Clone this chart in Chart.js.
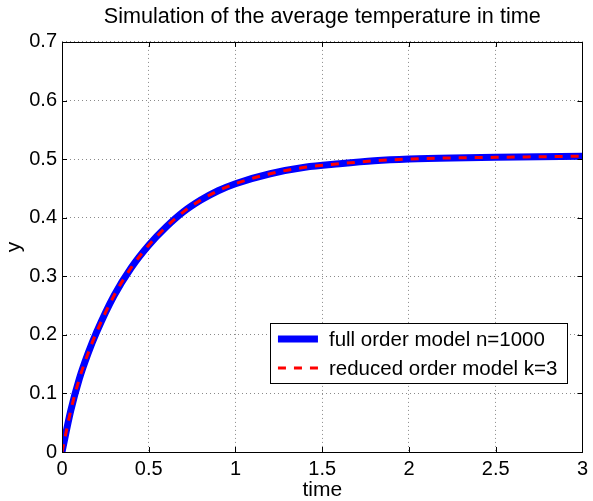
<!DOCTYPE html>
<html>
<head>
<meta charset="utf-8">
<script src="https://cdn.jsdelivr.net/npm/chart.js@4/dist/chart.umd.min.js"></script>
<style>
  body { margin: 0; background: #fff; }
  #wrap { width: 593px; height: 501px; }
</style>
</head>
<body>
<div id="wrap"><canvas id="chart" width="593" height="501"></canvas></div>
<script>
// values
const time = [0, 0.05, 0.1, 0.15, 0.2, 0.3, 0.4, 0.5, 0.6, 0.7, 0.8, 0.9, 1.0, 1.2, 1.4, 1.6, 1.8, 2.0, 2.25, 2.5, 2.75, 3.0];
const fullModel = [0, 0.07, 0.125, 0.168, 0.205, 0.267, 0.315, 0.353, 0.384, 0.41, 0.43, 0.446, 0.458, 0.475, 0.486, 0.492, 0.497, 0.5, 0.502, 0.503, 0.504, 0.505];
const reducedModel = [0, 0.07, 0.125, 0.168, 0.205, 0.267, 0.315, 0.353, 0.384, 0.41, 0.43, 0.446, 0.458, 0.475, 0.486, 0.492, 0.497, 0.5, 0.502, 0.503, 0.504, 0.505];
const xTicks = [0, 0.5, 1, 1.5, 2, 2.5, 3];
const yTicks = [0, 0.1, 0.2, 0.3, 0.4, 0.5, 0.6, 0.7];
const xTickLabels = ["0", "0.5", "1", "1.5", "2", "2.5", "3"];
const yTickLabels = ["0", "0.1", "0.2", "0.3", "0.4", "0.5", "0.6", "0.7"];

const FONT = "'Liberation Sans', Arial, sans-serif";

const toPoints = (ys) => time.map((t, i) => ({ x: t, y: ys[i] }));

// box round the axes plus matlab style inward ticks
const axesBox = {
	id: "axesBox",
	afterDraw(chart) {
		const { ctx, chartArea: a, scales } = chart;
		ctx.save();
		ctx.strokeStyle = "#000";
		ctx.lineWidth = 1;
		ctx.strokeRect(Math.round(a.left) + 0.5, Math.round(a.top) + 0.5, Math.round(a.right - a.left), Math.round(a.bottom - a.top));
		ctx.beginPath();
		xTicks.forEach((v) => {
			const px = Math.round(scales.x.getPixelForValue(v)) + 0.5;
			ctx.moveTo(px, a.bottom); ctx.lineTo(px, a.bottom - 5);
			ctx.moveTo(px, a.top); ctx.lineTo(px, a.top + 5);
		});
		yTicks.forEach((v) => {
			const py = Math.round(scales.y.getPixelForValue(v)) + 0.5;
			ctx.moveTo(a.left, py); ctx.lineTo(a.left + 5, py);
			ctx.moveTo(a.right, py); ctx.lineTo(a.right - 5, py);
		});
		ctx.stroke();
		ctx.restore();
	},
};

// legend drawn inside the plot, lower right
const insideLegend = {
	id: "insideLegend",
	afterDraw(chart) {
		const { ctx, chartArea: a } = chart;
		const items = [chart.data.datasets[0], chart.data.datasets[1]];
		ctx.save();
		ctx.font = "20.5px " + FONT;
		const textW = Math.max(...items.map((d) => ctx.measureText(d.label).width));
		const right = a.right - 15;
		const left = right - (8 + 40 + 11 + textW + 10);
		const bottom = a.bottom - 69;
		const top = bottom - 60;
		ctx.fillStyle = "#fff";
		ctx.fillRect(left, top, right - left, bottom - top);
		ctx.strokeStyle = "#000";
		ctx.lineWidth = 1;
		ctx.strokeRect(Math.round(left) + 0.5, Math.round(top) + 0.5, Math.round(right - left), Math.round(bottom - top));
		items.forEach((d, i) => {
			const y = top + 16 + i * 29;
			ctx.beginPath();
			ctx.strokeStyle = d.borderColor;
			ctx.lineWidth = d.borderWidth;
			ctx.setLineDash(d.borderDash || []);
			ctx.moveTo(left + 8, y);
			ctx.lineTo(left + 48, y);
			ctx.stroke();
			ctx.setLineDash([]);
			ctx.fillStyle = "#000";
			ctx.textBaseline = "middle";
			ctx.fillText(d.label, left + 59, y + 1);
		});
		ctx.restore();
	},
};

new Chart(document.getElementById("chart"), {
	type: "line",
	data: {
		datasets: [
			{
				label: "full order model n=1000",
				data: toPoints(fullModel),
				borderColor: "#0000ff",
				borderWidth: 7,
				pointRadius: 0,
				cubicInterpolationMode: "monotone",
				order: 2,
			},
			{
				label: "reduced order model k=3",
				data: toPoints(reducedModel),
				borderColor: "#ff0000",
				borderWidth: 3,
				borderDash: [8, 8],
				pointRadius: 0,
				cubicInterpolationMode: "monotone",
				order: 1,
			},
		],
	},
	options: {
		responsive: false,
		animation: false,
		layout: {
			padding: { left: 0, right: 6, top: 0, bottom: 0 },
		},
		plugins: {
			legend: { display: false },
			tooltip: { enabled: false },
			title: {
				display: true,
				fullSize: false,
				text: "Simulation of the average temperature in time",
				color: "#000",
				font: { family: FONT, size: 21.6, weight: "normal" },
				padding: { top: 4, bottom: 12 },
			},
		},
		scales: {
			x: {
				type: "linear",
				min: 0,
				max: 3,
				afterBuildTicks: (scale) => { scale.ticks = xTicks.map((v) => ({ value: v })); },
				afterFit: (scale) => { scale.height = 49; },
				ticks: {
					color: "#000",
					font: { family: FONT, size: 20 },
					padding: 5,
					maxRotation: 0,
					callback: (v) => xTickLabels[xTicks.indexOf(v)],
				},
				grid: {
					color: "#8a8a8a",
					drawTicks: false,
				},
				border: { display: false, dash: [1, 3] },
				title: {
					display: true,
					text: "time",
					color: "#000",
					font: { family: FONT, size: 21 },
					padding: { top: 0, bottom: -2 },
				},
			},
			y: {
				min: 0,
				max: 0.7,
				afterBuildTicks: (scale) => { scale.ticks = yTicks.map((v) => ({ value: v })); },
				afterFit: (scale) => { scale.width = 62; },
				ticks: {
					color: "#000",
					font: { family: FONT, size: 20 },
					padding: 5,
					callback: (v) => yTickLabels[yTicks.findIndex((t) => Math.abs(t - v) < 1e-9)],
				},
				grid: {
					color: "#8a8a8a",
					drawTicks: false,
				},
				border: { display: false, dash: [1, 3] },
				title: {
					display: true,
					text: "y",
					color: "#000",
					font: { family: FONT, size: 21 },
					padding: { top: 2, bottom: 0 },
				},
			},
		},
	},
	plugins: [axesBox, insideLegend],
});
</script>
</body>
</html>
